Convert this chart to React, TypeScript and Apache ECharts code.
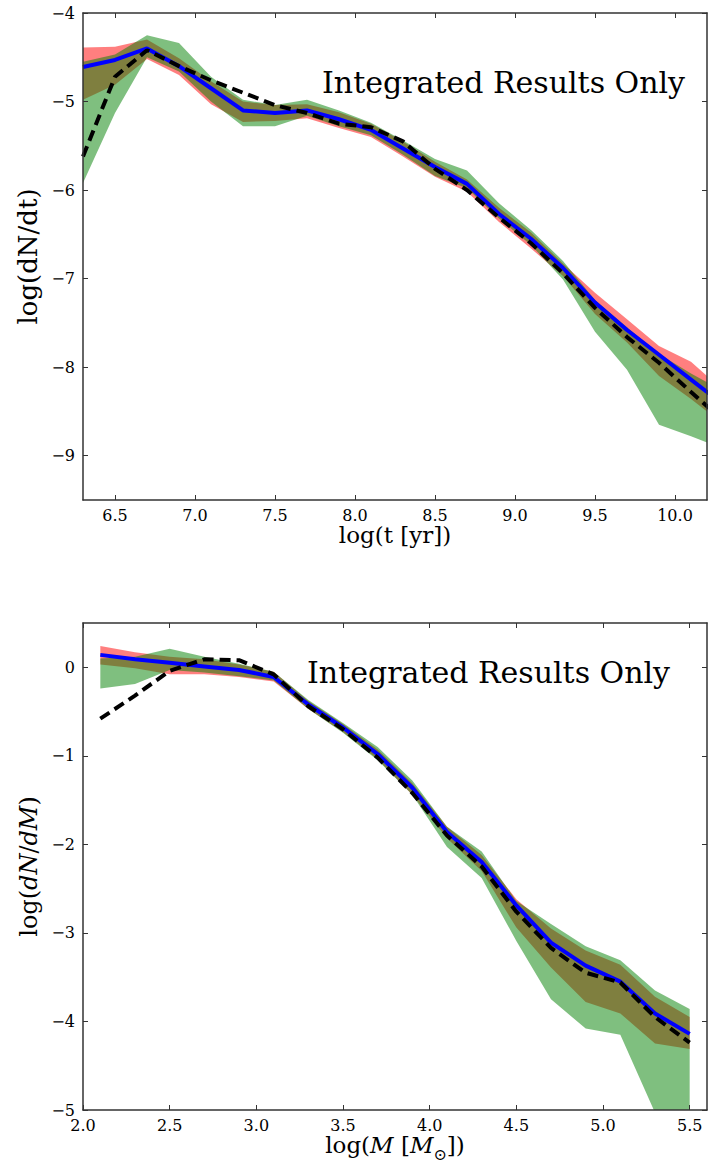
import React, { useEffect, useRef } from "react";
import * as echarts from "echarts";

// ---------- Top panel: log(dN/dt) vs log(t [yr]) ----------
const tX = [6.3, 6.5, 6.7, 6.9, 7.1, 7.3, 7.5, 7.7, 7.9, 8.1, 8.3, 8.5, 8.7, 8.9, 9.1, 9.3, 9.5, 9.7, 9.9, 10.1, 10.3];
const tBlue = [-4.61, -4.53, -4.40, -4.60, -4.85, -5.10, -5.13, -5.10, -5.20, -5.32, -5.53, -5.74, -5.93, -6.27, -6.55, -6.88, -7.27, -7.58, -7.86, -8.14, -8.42];
const tDash = [-5.62, -4.72, -4.42, -4.60, -4.76, -4.90, -5.04, -5.13, -5.25, -5.29, -5.45, -5.76, -6.00, -6.31, -6.60, -6.94, -7.33, -7.66, -7.95, -8.28, -8.60];
const tRedHigh = [-4.39, -4.38, -4.30, -4.51, -4.77, -5.00, -5.04, -5.03, -5.12, -5.25, -5.45, -5.68, -5.88, -6.20, -6.48, -6.83, -7.16, -7.46, -7.76, -7.94, -8.26];
const tRedLow = [-4.98, -4.81, -4.52, -4.70, -5.03, -5.23, -5.22, -5.19, -5.30, -5.40, -5.62, -5.85, -6.02, -6.36, -6.66, -6.97, -7.40, -7.72, -8.10, -8.36, -8.64];
const tGreenHigh = [-4.55, -4.47, -4.25, -4.34, -4.72, -4.98, -5.04, -4.98, -5.10, -5.24, -5.44, -5.65, -5.78, -6.15, -6.45, -6.80, -7.24, -7.55, -7.85, -8.07, -8.27];
const tGreenLow = [-5.92, -5.13, -4.50, -4.66, -5.00, -5.28, -5.28, -5.16, -5.28, -5.38, -5.60, -5.84, -5.98, -6.32, -6.62, -7.01, -7.60, -8.03, -8.65, -8.78, -8.92];
const tXTicks = [6.5, 7.0, 7.5, 8.0, 8.5, 9.0, 9.5, 10.0];
const tYTicks = [-9, -8, -7, -6, -5, -4];

// ---------- Bottom panel: log(dN/dM) vs log(M) ----------
const mX = [2.1, 2.3, 2.5, 2.7, 2.9, 3.1, 3.3, 3.5, 3.7, 3.9, 4.1, 4.3, 4.5, 4.7, 4.9, 5.1, 5.3, 5.5];
const mBlue = [0.14, 0.09, 0.05, 0.01, -0.03, -0.11, -0.42, -0.68, -0.98, -1.36, -1.86, -2.20, -2.69, -3.11, -3.37, -3.55, -3.91, -4.14];
const mDash = [-0.58, -0.32, -0.04, 0.09, 0.08, -0.08, -0.44, -0.70, -1.02, -1.42, -1.90, -2.25, -2.76, -3.17, -3.45, -3.56, -3.95, -4.24];
const mRedHigh = [0.24, 0.17, 0.12, 0.09, 0.03, -0.05, -0.38, -0.64, -0.93, -1.31, -1.80, -2.12, -2.62, -2.95, -3.20, -3.36, -3.72, -3.95];
const mRedLow = [0.03, -0.01, -0.08, -0.08, -0.11, -0.16, -0.47, -0.73, -1.04, -1.44, -1.93, -2.30, -2.94, -3.39, -3.78, -3.91, -4.25, -4.31];
const mGreenHigh = [0.10, 0.12, 0.21, 0.12, 0.04, -0.05, -0.37, -0.63, -0.90, -1.28, -1.80, -2.08, -2.64, -2.90, -3.15, -3.31, -3.65, -3.86];
const mGreenLow = [-0.24, -0.19, -0.03, -0.06, -0.10, -0.15, -0.47, -0.74, -1.05, -1.44, -2.03, -2.38, -3.09, -3.75, -4.08, -4.15, -5.03, -5.40];
const mXTicks = [2.0, 2.5, 3.0, 3.5, 4.0, 4.5, 5.0, 5.5];
const mYTicks = [-5, -4, -3, -2, -1, 0];

const PANEL_TEXT = "Integrated Results Only";

const SERIF = '"DejaVu Serif", "Liberation Serif", serif';
const AXIS_COLOR = "#333";

const fmtY = (v: number) => (v < 0 ? "\u2212" : "") + String(Math.abs(v));
const fmtX = (v: number) => v.toFixed(1);

const zip = (xs: number[], ys: number[]) => xs.map((x, i) => [x, ys[i]]);

function bandSeries(xs: number[], lo: number[], hi: number[], color: string, axis: number) {
  return {
    type: "custom",
    xAxisIndex: axis,
    yAxisIndex: axis,
    coordinateSystem: "cartesian2d",
    clip: true,
    silent: true,
    z: 2,
    data: xs.map((x, i) => [x, lo[i], hi[i]]),
    encode: { x: 0, y: [1, 2] },
    renderItem: (params: any, api: any) => {
      if (params.dataIndex !== 0) return null;
      const upper = xs.map((x, i) => api.coord([x, hi[i]]));
      const lower = xs.map((x, i) => api.coord([x, lo[i]])).reverse();
      const cs = params.coordSys;
      return {
        type: "polygon",
        shape: { points: upper.concat(lower) },
        style: { fill: color, opacity: 0.5 },
        clipPath: { type: "rect", shape: { x: cs.x, y: cs.y, width: cs.width, height: cs.height } },
      };
    },
  };
}

function lineSeries(xs: number[], ys: number[], axis: number, dashed: boolean) {
  return {
    type: "line",
    xAxisIndex: axis,
    yAxisIndex: axis,
    data: zip(xs, ys),
    symbol: "none",
    clip: true,
    lineStyle: dashed
      ? { color: "#000", width: 4, type: [11, 6] }
      : { color: "#0000ff", width: 4, type: "solid" },
    z: dashed ? 4 : 3,
  };
}

function xAxes(grid: number, min: number, max: number, ticks: number[], name: any, nameGap: number, rich?: any) {
  const common = {
    gridIndex: grid,
    type: "value",
    min,
    max,
    splitNumber: 8,
    splitLine: { show: false },
    axisLine: { show: true, onZero: false, lineStyle: { color: AXIS_COLOR, width: 1.5 } },
    axisTick: { show: true, inside: true, length: 5, customValues: ticks, lineStyle: { color: AXIS_COLOR, width: 1 } },
    z: 5,
  };
  return [
    {
      ...common,
      position: "bottom",
      axisLabel: {
        show: true,
        customValues: ticks,
        formatter: fmtX,
        margin: 7,
        color: "#000",
        fontFamily: SERIF,
        fontSize: 16,
      },
      name,
      nameLocation: "middle",
      nameGap,
      nameTextStyle: { color: "#000", fontFamily: SERIF, fontSize: 23, rich },
    },
    {
      ...common,
      position: "top",
      axisLabel: { show: false },
    },
  ];
}

function yAxes(grid: number, min: number, max: number, ticks: number[], name: any, fontSize: number, rich?: any) {
  const common = {
    gridIndex: grid,
    type: "value",
    min,
    max,
    splitNumber: 6,
    splitLine: { show: false },
    axisLine: { show: true, onZero: false, lineStyle: { color: AXIS_COLOR, width: 1.5 } },
    axisTick: { show: true, inside: true, length: 5, customValues: ticks, lineStyle: { color: AXIS_COLOR, width: 1 } },
    z: 5,
  };
  return [
    {
      ...common,
      position: "left",
      axisLabel: {
        show: true,
        customValues: ticks,
        formatter: fmtY,
        margin: 8,
        color: "#000",
        fontFamily: SERIF,
        fontSize: 16,
      },
      name,
      nameLocation: "middle",
      nameGap: 40,
      nameRotate: 90,
      nameTextStyle: { color: "#000", fontFamily: SERIF, fontSize, rich },
    },
    {
      ...common,
      position: "right",
      axisLabel: { show: false },
    },
  ];
}

export default function App() {
  const ref = useRef<HTMLDivElement>(null);

  useEffect(() => {
    if (!ref.current) return;
    const chart = echarts.init(ref.current, null, { renderer: "svg" });

    const richX = {
      n: { fontFamily: SERIF, fontSize: 23, color: "#000" },
      i: { fontFamily: SERIF, fontSize: 23, fontStyle: "italic", color: "#000" },
      s: { fontFamily: SERIF, fontSize: 16, color: "#000", verticalAlign: "bottom", padding: [0, 0, -6, 0] },
    };
    const richY = {
      n: { fontFamily: SERIF, fontSize: 24, color: "#000" },
      i: { fontFamily: SERIF, fontSize: 24, fontStyle: "italic", color: "#000" },
    };

    const option: any = {
      animation: false,
      backgroundColor: "#fff",
      grid: [
        { left: 83, top: 13, width: 624, height: 487, outerBoundsMode: "none", containLabel: false },
        { left: 83, top: 623, width: 624, height: 487, outerBoundsMode: "none", containLabel: false },
      ],
      xAxis: [
        ...xAxes(0, 6.3, 10.2, tXTicks, "log(t [yr])", 16),
        ...xAxes(1, 2.0, 5.6, mXTicks, "{n|log(}{i|M}{n| [}{i|M}{s|\u2299}{n|])}", 20, richX),
      ],
      yAxis: [
        ...yAxes(0, -9.5, -4, tYTicks, "log(dN/dt)", 26),
        ...yAxes(1, -5, 0.5, mYTicks, "{n|log(}{i|dN}{n|/}{i|dM}{n|)}", 24, richY),
      ],
      graphic: [
        {
          type: "text",
          x: 322,
          y: 82,
          style: { text: PANEL_TEXT, font: `30px ${SERIF}`, fill: "#000", verticalAlign: "middle", align: "left" },
          z: 10,
        },
        {
          type: "text",
          x: 307,
          y: 672,
          style: { text: PANEL_TEXT, font: `30px ${SERIF}`, fill: "#000", verticalAlign: "middle", align: "left" },
          z: 10,
        },
      ],
      series: [
        bandSeries(tX, tRedLow, tRedHigh, "#ff0000", 0),
        bandSeries(tX, tGreenLow, tGreenHigh, "#008000", 0),
        lineSeries(tX, tBlue, 0, false),
        lineSeries(tX, tDash, 0, true),
        bandSeries(mX, mRedLow, mRedHigh, "#ff0000", 2),
        bandSeries(mX, mGreenLow, mGreenHigh, "#008000", 2),
        lineSeries(mX, mBlue, 2, false),
        lineSeries(mX, mDash, 2, true),
      ],
    };

    chart.setOption(option);
    return () => chart.dispose();
  }, []);

  return (
    <div
      ref={ref}
      style={{ position: "fixed", left: 0, top: 0, width: 708, height: 1169, background: "#fff" }}
    />
  );
}
